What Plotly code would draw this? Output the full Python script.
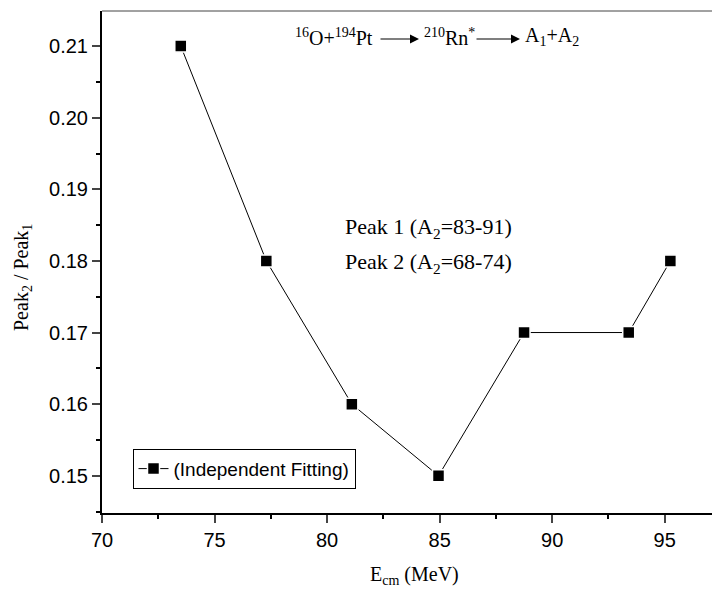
import plotly.graph_objects as go

# Data
e_cm = [73.5, 77.3, 81.1, 84.95, 88.75, 93.4, 95.25]
ratio = [0.21, 0.18, 0.16, 0.15, 0.17, 0.17, 0.18]
series_name = "(Independent Fitting)"
x_ticks = [70, 75, 80, 85, 90, 95]
y_ticks = [0.15, 0.16, 0.17, 0.18, 0.19, 0.20, 0.21]

W, H = 712, 594
L, R, T, B = 102, 0, 11, 81

fig = go.Figure()
fig.add_trace(go.Scatter(
    x=e_cm, y=ratio, mode="lines+markers", name=series_name,
    line=dict(color="black", width=1),
    marker=dict(symbol="square", size=12, color="black",
                line=dict(color="white", width=1.5)),
    showlegend=True,
))

serif = "Liberation Serif, Times New Roman, serif"
sans = "Liberation Sans, Arial, sans-serif"

fig.update_layout(
    width=W, height=H,
    margin=dict(l=L, r=R, t=T, b=B),
    paper_bgcolor="white", plot_bgcolor="white",
    font=dict(family=sans, size=20, color="black"),
    xaxis=dict(
        range=[70, 97.1], tickvals=x_ticks, ticks="outside", ticklen=8, tickwidth=2,
        showline=True, linecolor="black", linewidth=2, showgrid=False, zeroline=False,
        tickfont=dict(family=sans, size=20, color="black"),
        minor=dict(dtick=2.5, ticks="outside", ticklen=4, tickwidth=2, tickcolor="black", showgrid=False),
    ),
    yaxis=dict(
        range=[0.1448, 0.2149], tickvals=y_ticks, tickformat=".2f", ticks="outside", ticklen=8, tickwidth=2,
        showline=True, linecolor="black", linewidth=2, showgrid=False, zeroline=False,
        tickfont=dict(family=sans, size=20, color="black"),
        minor=dict(dtick=0.005, ticks="outside", ticklen=4, tickwidth=2, tickcolor="black", showgrid=False),
    ),
    legend=dict(
        x=0.05, y=0.128, xanchor="left", yanchor="top",
        bordercolor="black", borderwidth=1, bgcolor="white",
        font=dict(family=sans, size=19, color="black"),
        tracegroupgap=0, itemwidth=30,
    ),
    showlegend=True,
)

# top border line
fig.add_shape(type="line", xref="paper", yref="paper", x0=0, x1=1, y0=1, y1=1,
              line=dict(color="#444", width=1))

def px_x(p):
    return (p - L) / (W - L - R)

def px_y(p):
    return (H - B - p) / (H - T - B)

# Reaction annotation
fig.add_annotation(x=px_x(293), y=px_y(37), xref="paper", yref="paper", xanchor="left", yanchor="middle",
                   text="<sup>16</sup>O+<sup>194</sup>Pt", showarrow=False, font=dict(family=serif, size=20))
fig.add_annotation(x=px_x(422), y=px_y(37), xref="paper", yref="paper", xanchor="left", yanchor="middle",
                   text="<sup>210</sup>Rn<sup>*</sup>", showarrow=False, font=dict(family=serif, size=20))
fig.add_annotation(x=px_x(523), y=px_y(37), xref="paper", yref="paper", xanchor="left", yanchor="middle",
                   text="A<sub>1</sub>+A<sub>2</sub>", showarrow=False, font=dict(family=serif, size=20))
for x0, x1 in [(379, 419), (475, 520)]:
    fig.add_annotation(x=px_x(x1), y=px_y(39), xref="paper", yref="paper",
                       ax=-(x1 - x0), ay=0, axref="pixel", ayref="pixel",
                       text="", showarrow=True, arrowhead=2, arrowsize=1.5, arrowwidth=1.2,
                       arrowcolor="black")

fig.add_annotation(x=px_x(343), y=px_y(228), xref="paper", yref="paper", xanchor="left", yanchor="middle",
                   text="Peak 1 (A<sub>2</sub>=83-91)", showarrow=False, font=dict(family=serif, size=22))
fig.add_annotation(x=px_x(343), y=px_y(263), xref="paper", yref="paper", xanchor="left", yanchor="middle",
                   text="Peak 2 (A<sub>2</sub>=68-74)", showarrow=False, font=dict(family=serif, size=22))

# axis titles
fig.add_annotation(x=px_x(415), y=px_y(575), xref="paper", yref="paper", xanchor="center", yanchor="middle",
                   text="E<sub>cm</sub> (MeV)", showarrow=False, font=dict(family=serif, size=20))
fig.add_annotation(x=px_x(22), y=px_y(278), xref="paper", yref="paper", xanchor="center", yanchor="middle",
                   text="Peak<sub>2</sub> / Peak<sub>1</sub>", textangle=-90, showarrow=False,
                   font=dict(family=serif, size=20))

fig.write_html("out.html")
